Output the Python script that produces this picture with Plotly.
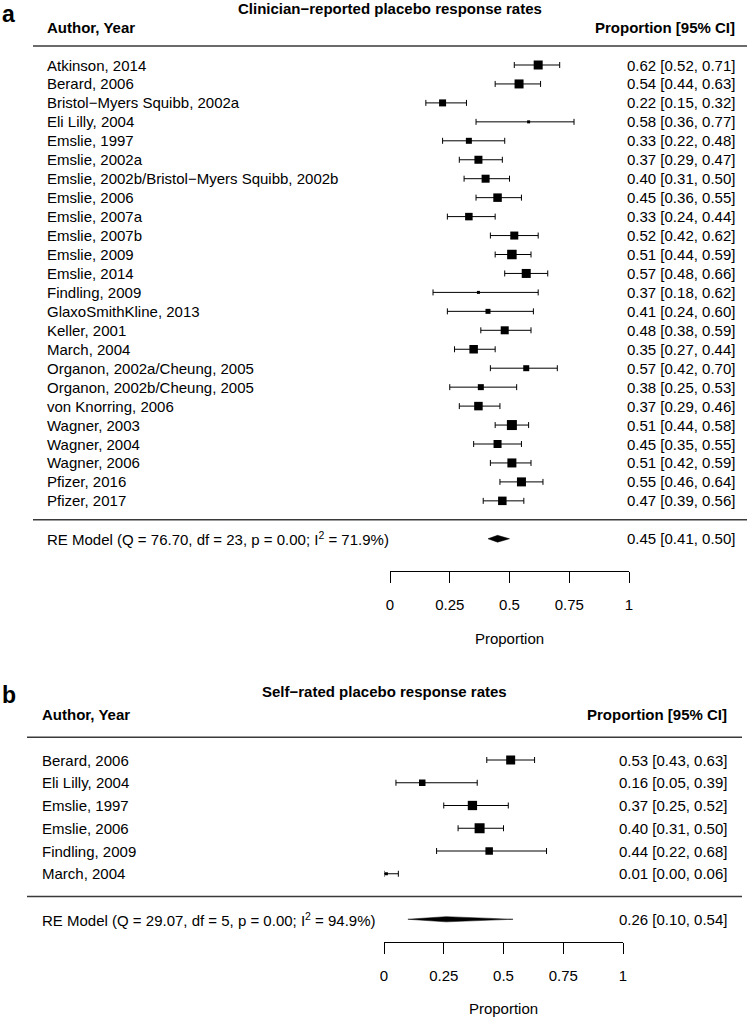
import plotly.graph_objects as go

# ---------------- data ----------------
studies_a = ["Atkinson, 2014", "Berard, 2006", "Bristol\u2212Myers Squibb, 2002a", "Eli Lilly, 2004",
             "Emslie, 1997", "Emslie, 2002a", "Emslie, 2002b/Bristol\u2212Myers Squibb, 2002b",
             "Emslie, 2006", "Emslie, 2007a", "Emslie, 2007b", "Emslie, 2009", "Emslie, 2014",
             "Findling, 2009", "GlaxoSmithKline, 2013", "Keller, 2001", "March, 2004",
             "Organon, 2002a/Cheung, 2005", "Organon, 2002b/Cheung, 2005", "von Knorring, 2006",
             "Wagner, 2003", "Wagner, 2004", "Wagner, 2006", "Pfizer, 2016", "Pfizer, 2017"]
est_a = [0.62, 0.54, 0.22, 0.58, 0.33, 0.37, 0.40, 0.45, 0.33, 0.52, 0.51, 0.57,
         0.37, 0.41, 0.48, 0.35, 0.57, 0.38, 0.37, 0.51, 0.45, 0.51, 0.55, 0.47]
lo_a = [0.52, 0.44, 0.15, 0.36, 0.22, 0.29, 0.31, 0.36, 0.24, 0.42, 0.44, 0.48,
        0.18, 0.24, 0.38, 0.27, 0.42, 0.25, 0.29, 0.44, 0.35, 0.42, 0.46, 0.39]
hi_a = [0.71, 0.63, 0.32, 0.77, 0.48, 0.47, 0.50, 0.55, 0.44, 0.62, 0.59, 0.66,
        0.62, 0.60, 0.59, 0.44, 0.70, 0.53, 0.46, 0.58, 0.55, 0.59, 0.64, 0.56]
# relative study weights (drive square size)
weight_a = [0.9, 0.9, 0.7, 0.3, 0.6, 0.8, 0.8, 0.85, 0.75, 0.8, 0.95, 0.9,
            0.3, 0.5, 0.8, 0.85, 0.6, 0.6, 0.85, 1.0, 0.8, 0.9, 0.9, 0.85]
re_a = (0.45, 0.41, 0.50)
re_label_a = "RE Model (Q = 76.70, df = 23, p = 0.00; I<sup>2</sup> = 71.9%)"
title_a = "Clinician\u2212reported placebo response rates"

studies_b = ["Berard, 2006", "Eli Lilly, 2004", "Emslie, 1997", "Emslie, 2006",
             "Findling, 2009", "March, 2004"]
est_b = [0.53, 0.16, 0.37, 0.40, 0.44, 0.01]
lo_b = [0.43, 0.05, 0.25, 0.31, 0.22, 0.00]
hi_b = [0.63, 0.39, 0.52, 0.50, 0.68, 0.06]
weight_b = [0.9, 0.65, 0.93, 1.0, 0.75, 0.3]
re_b = (0.26, 0.10, 0.54)
re_label_b = "RE Model (Q = 29.07, df = 5, p = 0.00; I<sup>2</sup> = 94.9%)"
title_b = "Self\u2212rated placebo response rates"

tick_vals = [0, 0.25, 0.5, 0.75, 1]
tick_text = ["0", "0.25", "0.5", "0.75", "1"]
x_title = "Proportion"
col_left = "Author, Year"
col_right = "Proportion [95% CI]"

# ---------------- layout helpers ----------------
W, H = 750, 1017
FONT = "Liberation Sans, Arial, Helvetica, sans-serif"
FS = 15

fig = go.Figure()


def px_x(p):
    return p / W


def px_y(p):
    return 1 - p / H


def panel(studies, est, lo, hi, weight, re, re_label, title, letter,
          xa, ya, x0_px, x1_px, top_px, row0_px, step_px, axis_px,
          text_left_px, ci_right_px, line_l_px, line_r_px, letter_y_px,
          diamond_half_px, size_scale, title_x_px):
    yref = "y" if ya == "yaxis" else "y2"
    xref = "x" if xa == "xaxis" else "x2"
    rows = list(range(len(studies)))
    k_re = len(studies) + 1
    fig.add_trace(go.Scatter(
        x=est, y=rows, mode="markers", xaxis=xref, yaxis=yref, cliponaxis=False,
        marker=dict(symbol="square", size=[w * size_scale for w in weight], color="black",
                    opacity=1, line=dict(width=0)),
        error_x=dict(type="data", symmetric=False,
                     array=[h - e for h, e in zip(hi, est)],
                     arrayminus=[e - l for e, l in zip(est, lo)],
                     width=3, thickness=1, color="black"),
        hoverinfo="skip"))
    hh = diamond_half_px / step_px
    fig.add_trace(go.Scatter(
        x=[re[1], re[0], re[2], re[0], re[1]],
        y=[k_re, k_re - hh, k_re, k_re + hh, k_re],
        mode="lines", fill="toself", fillcolor="black",
        line=dict(color="black", width=0.5), xaxis=xref, yaxis=yref, hoverinfo="skip"))

    rng_bottom = (axis_px - row0_px) / step_px
    rng_top = (top_px - row0_px) / step_px
    fig.layout[ya] = dict(domain=[px_y(axis_px), px_y(top_px)], range=[rng_bottom, rng_top],
                          visible=False, fixedrange=True, anchor=xref)
    fig.layout[xa] = dict(domain=[px_x(x0_px), px_x(x1_px)], range=[0, 1], anchor=yref,
                          showline=True, linecolor="black", linewidth=1, mirror=False,
                          ticks="outside", ticklen=11, tickwidth=1, tickcolor="black",
                          tickvals=tick_vals, ticktext=tick_text, showgrid=False, zeroline=False,
                          tickfont=dict(size=FS, color="black"), ticklabelstandoff=9,
                          automargin=False, fixedrange=True,
                          title=dict(text=x_title, font=dict(size=FS, color="black"), standoff=21))

    ann = []
    for k, s in enumerate(studies):
        ann.append(dict(x=px_x(text_left_px), xref="paper", y=k, yref=yref, text=s,
                        xanchor="left", yanchor="middle", showarrow=False))
        ann.append(dict(x=px_x(ci_right_px), xref="paper", y=k, yref=yref,
                        text=f"{est[k]:.2f} [{lo[k]:.2f}, {hi[k]:.2f}]",
                        xanchor="right", yanchor="middle", showarrow=False))
    ann.append(dict(x=px_x(text_left_px), xref="paper", y=k_re, yref=yref, text=re_label,
                    xanchor="left", yanchor="middle", showarrow=False))
    ann.append(dict(x=px_x(ci_right_px), xref="paper", y=k_re, yref=yref,
                    text=f"{re[0]:.2f} [{re[1]:.2f}, {re[2]:.2f}]",
                    xanchor="right", yanchor="middle", showarrow=False))
    ann.append(dict(x=px_x(text_left_px), xref="paper", y=-2, yref=yref,
                    text=f"<b>{col_left}</b>", xanchor="left", yanchor="middle", showarrow=False))
    ann.append(dict(x=px_x(ci_right_px), xref="paper", y=-2, yref=yref,
                    text=f"<b>{col_right}</b>", xanchor="right", yanchor="middle", showarrow=False))
    ann.append(dict(x=px_x(title_x_px), xref="paper", y=-3, yref=yref,
                    text=f"<b>{title}</b>", xanchor="center", yanchor="middle", showarrow=False,
                    font=dict(size=FS)))
    ann.append(dict(x=px_x(0), xref="paper", y=px_y(letter_y_px), yref="paper",
                    text=f"<b>{letter}</b>", xanchor="left", yanchor="middle", showarrow=False,
                    font=dict(size=23)))
    for a in ann:
        fig.add_annotation(**a)
    for kl in (-1, len(studies)):
        fig.add_shape(type="line", xref="paper", yref=yref,
                      x0=px_x(line_l_px), x1=px_x(line_r_px), y0=kl, y1=kl,
                      line=dict(color="#3a3a3a", width=1.4))


panel(studies_a, est_a, lo_a, hi_a, weight_a, re_a, re_label_a, title_a, "a",
      "xaxis", "yaxis", 390, 629, 0, 65, 18.95, 571,
      45, 737, 33, 747, 14, 3.4, 10, 390)
panel(studies_b, est_b, lo_b, hi_b, weight_b, re_b, re_label_b, title_b, "b",
      "xaxis2", "yaxis2", 384, 623, 650, 760, 22.75, 942,
      40, 729, 27, 742, 695, 2.6, 10, 384)

fig.update_layout(width=W, height=H, margin=dict(l=0, r=0, t=0, b=0),
                  plot_bgcolor="white", paper_bgcolor="white", showlegend=False,
                  hovermode=False,
                  font=dict(family=FONT, size=FS, color="black"))

fig.write_html("out.html", config={"displayModeBar": False, "staticPlot": True},
               post_script="document.body.style.margin='0px';")
